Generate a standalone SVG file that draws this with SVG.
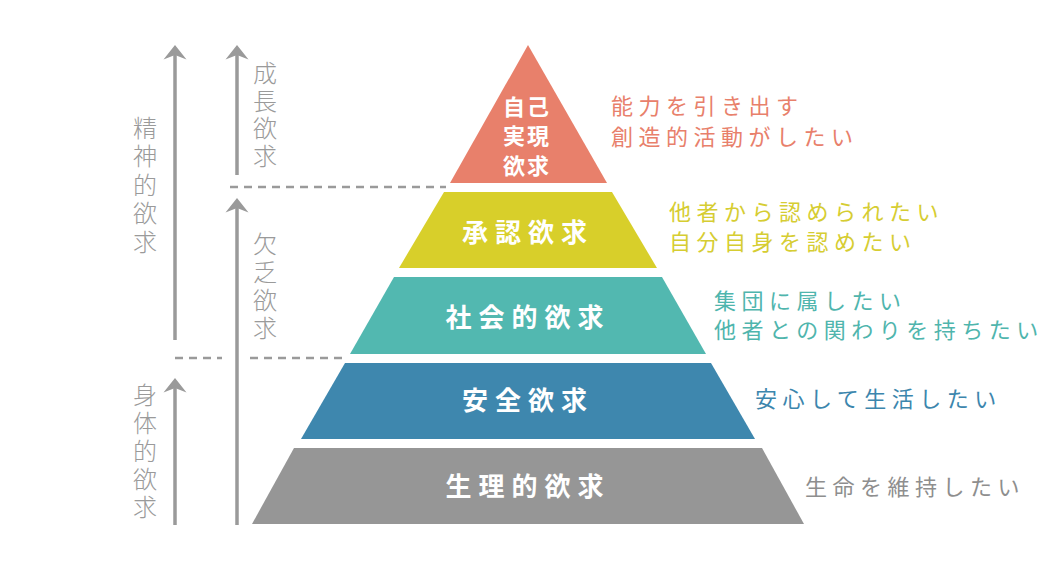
<svg xmlns="http://www.w3.org/2000/svg" width="1050" height="565" viewBox="0 0 1050 565">
<style>
.lbl{font-family:"Noto Sans CJK JP","Noto Sans",sans-serif;font-weight:700;fill:#ffffff;text-anchor:middle;dominant-baseline:central}
.desc{font-family:"Noto Sans CJK JP","Noto Sans",sans-serif;font-weight:400;font-size:22px;letter-spacing:5.5px;dominant-baseline:central}
.side{font-family:"Noto Sans CJK JP","Noto Sans",sans-serif;font-weight:300;font-size:24px;fill:#9a9a9a;text-anchor:middle;writing-mode:vertical-rl}
.shaft{stroke:#9a9a9a;stroke-width:3.5;fill:none}
.dash{stroke:#9a9a9a;stroke-width:2.5;stroke-dasharray:8 6;fill:none}
.head{fill:#9a9a9a}
</style>
<defs>
<path id="ah" d="M0,0 L11.5,14.5 L0,10 L-11.5,14.5 Z"/>
</defs>
<rect width="1050" height="565" fill="#ffffff"/>

<g id="connectors">
  <line class="shaft" x1="175" y1="52" x2="175" y2="340"/>
  <use href="#ah" class="head" x="175" y="45"/>
  <line class="shaft" x1="175" y1="385" x2="175" y2="525"/>
  <use href="#ah" class="head" x="175" y="378"/>
  <line class="shaft" x1="237" y1="52" x2="237" y2="175"/>
  <use href="#ah" class="head" x="237" y="45"/>
  <line class="shaft" x1="237" y1="205" x2="237" y2="525"/>
  <use href="#ah" class="head" x="237" y="198"/>
  <line class="dash" x1="230" y1="187" x2="446" y2="187"/>
  <line class="dash" x1="175" y1="358" x2="222" y2="358"/>
  <line class="dash" x1="250" y1="358" x2="344" y2="358"/>
</g>

<g id="side-labels">
  <text id="seishin" class="side" x="145" y="187" letter-spacing="4.5">精神的欲求</text>
  <text id="seicho" class="side" x="265" y="116" letter-spacing="3.5">成長欲求</text>
  <text id="ketsubo" class="side" x="265" y="288" letter-spacing="4">欠乏欲求</text>
  <text id="shintai" class="side" x="145" y="453" letter-spacing="4">身体的欲求</text>
</g>

<g id="node-jiko">
  <polygon points="528,45 607,183 450,183" fill="#e8806b"/>
  <text class="lbl" font-size="22" letter-spacing="2"><tspan x="527" y="105">自己</tspan><tspan x="527" y="134">実現</tspan><tspan x="527" y="164">欲求</tspan></text>
  <text class="desc" fill="#e8806b"><tspan x="611" y="104">能力を引き出す</tspan><tspan x="611" y="135">創造的活動がしたい</tspan></text>
</g>

<g id="node-shonin">
  <polygon points="444,192 612,192 657,268 399,268" fill="#d8cf2a"/>
  <text class="lbl" x="528" y="230" font-size="26" letter-spacing="7">承認欲求</text>
  <text class="desc" fill="#d6cd32"><tspan x="669" y="210">他者から認められたい</tspan><tspan x="669" y="240">自分自身を認めたい</tspan></text>
</g>

<g id="node-shakai">
  <polygon points="394,277 662,277 706,354 350,354" fill="#52b8b0"/>
  <text class="lbl" x="528" y="315" font-size="26" letter-spacing="7">社会的欲求</text>
  <text class="desc" fill="#4fb5ad"><tspan x="714" y="299">集団に属したい</tspan><tspan x="714" y="328">他者との関わりを持ちたい</tspan></text>
</g>

<g id="node-anzen">
  <polygon points="345,363 711,363 755,439 301,439" fill="#3e87ae"/>
  <text class="lbl" x="528" y="398" font-size="26" letter-spacing="7">安全欲求</text>
  <text class="desc" fill="#3c86ad" x="755" y="397">安心して生活したい</text>
</g>

<g id="node-seiri">
  <polygon points="294,448 762,448 804,524 252,524" fill="#969696"/>
  <text class="lbl" x="528" y="484" font-size="26" letter-spacing="7">生理的欲求</text>
  <text class="desc" fill="#8e8e8e" x="805" y="485">生命を維持したい</text>
</g>
</svg>
